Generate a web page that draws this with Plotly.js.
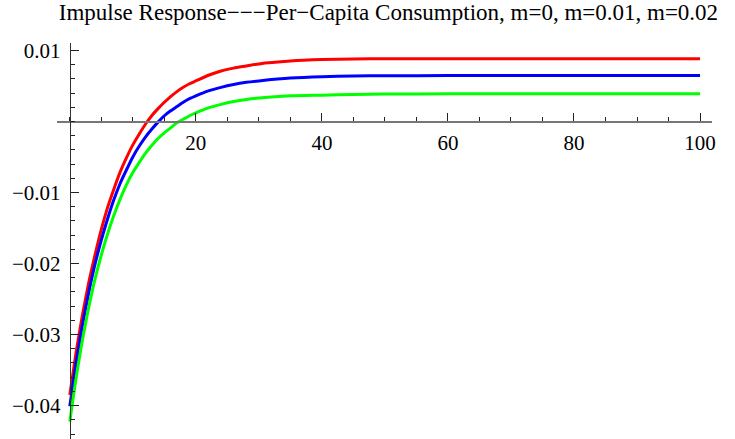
<!DOCTYPE html>
<html>
<head>
<meta charset="utf-8">
<script src="https://cdn.plot.ly/plotly-3.0.1.min.js"></script>
<style>html,body{margin:0;padding:0;background:#fff;}#chart{width:735px;height:439px;}</style>
</head>
<body>
<div id="chart"></div>
<script>
// Periods (time after shock)
const periods = [0,1,2,3,4,5,6,7,8,9,10,11,12,13,14,15,16,17,18,19,20,22,24,26,28,30,35,40,45,50,60,70,80,90,100];
// m = 0 (red)
const consM0 = [-0.0385,-0.0325,-0.0273,-0.0227,-0.0188,-0.0152,-0.0121,-0.0095,-0.0071,-0.0051,-0.0033,-0.0018,-0.0004,0.0008,0.0018,0.0027,0.0035,0.0042,0.0048,0.0053,0.0057,0.0065,0.0071,0.0075,0.0078,0.0081,0.0085,0.0087,0.0088,0.00882,0.00883,0.00883,0.00883,0.00883,0.00883];
// m = 0.01 (blue)
const consM001 = [-0.0401,-0.0340,-0.0287,-0.0241,-0.0201,-0.0167,-0.0137,-0.0110,-0.0087,-0.0068,-0.0050,-0.0035,-0.0022,-0.0011,-0.0001,0.0008,0.0015,0.0021,0.0027,0.0032,0.0036,0.0043,0.0048,0.0052,0.0055,0.0057,0.0061,0.0063,0.0064,0.00643,0.00645,0.00645,0.00645,0.00645,0.00645];
// m = 0.02 (green)
const consM002 = [-0.04225,-0.0361,-0.0308,-0.0262,-0.0222,-0.0188,-0.0158,-0.0132,-0.0109,-0.0089,-0.0072,-0.0058,-0.0045,-0.0034,-0.0024,-0.0016,-0.0009,-0.0002,0.0003,0.0008,0.0012,0.0019,0.0024,0.0028,0.0031,0.0033,0.0036,0.0037,0.0038,0.00385,0.00388,0.00388,0.00388,0.00388,0.00388];

const xTickVals = [20,40,60,80,100];
const xTickText = ["20","40","60","80","100"];
const yTickVals = [0.01,-0.01,-0.02,-0.03,-0.04];
const yTickText = ["0.01","\u22120.01","\u22120.02","\u22120.03","\u22120.04"];
const titleText = "Impulse Response\u2212\u2212\u2212Per\u2212Capita Consumption, m=0, m=0.01, m=0.02";

const xRange = [-2.03, 101.9];
const yRange = [-0.0447, 0.01104];

const mk = (y, c) => ({x: periods, y: y, type: 'scatter', mode: 'lines',
  line: {color: c, width: 3, shape: 'spline', smoothing: 0.6}, hoverinfo: 'skip'});

const data = [mk(consM0, '#ff0000'), mk(consM001, '#0000ff'), mk(consM002, '#00ff00')];

const font = {family: 'Liberation Serif, Times New Roman, serif', color: '#000'};

const layout = {
  width: 735, height: 439,
  margin: {l: 57, r: 23, t: 43, b: 0, pad: 0},
  paper_bgcolor: '#fff', plot_bgcolor: '#fff',
  showlegend: false,
  font: Object.assign({size: 21}, font),
  title: {text: titleText, x: 0.506, xref: 'paper', y: 0.99, yref: 'container', yanchor: 'top',
    font: Object.assign({size: 23}, font)},
  xaxis: {
    range: xRange, anchor: 'free',
    position: (0 - yRange[0]) / (yRange[1] - yRange[0]),
    showgrid: false, zeroline: false, showline: true, linecolor: '#777', linewidth: 1.3,
    ticks: 'inside', ticklen: 8, tickwidth: 1, tickcolor: '#222',
    tickmode: 'array', tickvals: xTickVals, ticktext: xTickText,
    tickfont: Object.assign({size: 21}, font), ticklabelstandoff: 2,
    minor: {dtick: 5, tick0: 0, ticks: 'inside', ticklen: 4.5, tickcolor: '#222', showgrid: false},
    fixedrange: true
  },
  yaxis: {
    range: yRange, anchor: 'free',
    position: (0 - xRange[0]) / (xRange[1] - xRange[0]),
    showgrid: false, zeroline: false, showline: true, linecolor: '#333', linewidth: 1.3,
    ticks: 'inside', ticklen: 7.5, tickwidth: 1, tickcolor: '#222',
    tickmode: 'array', tickvals: yTickVals, ticktext: yTickText,
    tickfont: Object.assign({size: 21}, font), ticklabelstandoff: 5,
    minor: {dtick: 0.002, tick0: 0, ticks: 'inside', ticklen: 4, tickcolor: '#222', showgrid: false},
    fixedrange: true
  }
};

Plotly.newPlot('chart', data, layout, {displayModeBar: false, staticPlot: true});
</script>
</body>
</html>
